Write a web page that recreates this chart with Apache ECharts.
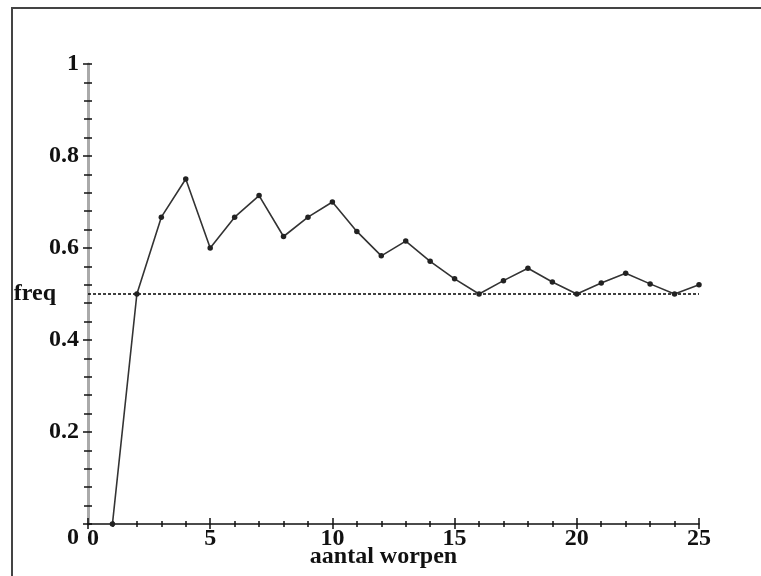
<!DOCTYPE html>
<html>
<head>
<meta charset="utf-8">
<script src="https://cdn.jsdelivr.net/npm/echarts@6/dist/echarts.min.js"></script>
<style>
  html, body { margin: 0; padding: 0; background: #fff; }
  #wrap { position: relative; width: 761px; height: 576px; }
  #frame { position: absolute; left: 11px; top: 7px; right: 0; bottom: 0;
           border-left: 2px solid #444; border-top: 2px solid #444; }
  #chart { position: absolute; left: 0; top: 0; width: 761px; height: 576px; }
</style>
</head>
<body>
<div id="wrap">
  <div id="frame"></div>
  <div id="chart"></div>
</div>
<script>
// number of throws (aantal worpen)
const throws = [1,2,3,4,5,6,7,8,9,10,11,12,13,14,15,16,17,18,19,20,21,22,23,24,25];
// relative frequency (freq)
const freq = [0, 0.5, 0.667, 0.75, 0.6, 0.667, 0.714, 0.625, 0.667, 0.7, 0.636, 0.583,
              0.615, 0.571, 0.533, 0.5, 0.529, 0.556, 0.526, 0.5, 0.524, 0.545, 0.522, 0.5, 0.52];
// reference line
const refX = [0, 25];
const refY = [0.5, 0.5];
const xTicks = [0, 5, 10, 15, 20, 25];
const yTicks = [0, 0.2, 0.4, 0.6, 0.8, 1];

const FONT = 'Liberation Serif';
const labelStyle = { fontFamily: FONT, fontWeight: 'bold', fontSize: 24, color: '#111' };

const chart = echarts.init(document.getElementById('chart'), null, { renderer: 'canvas' });

const xBase = {
  type: 'value', min: xTicks[0], max: xTicks[xTicks.length - 1], interval: 5,
  position: 'bottom', splitLine: { show: false }
};
const yBase = {
  type: 'value', min: yTicks[0], max: yTicks[yTicks.length - 1], interval: 0.2,
  position: 'left', splitLine: { show: false }
};

chart.setOption({
  animation: false,
  backgroundColor: 'transparent',
  grid: { left: 88, right: 62, top: 64, bottom: 52, containLabel: false, outerBoundsMode: 'none' },
  xAxis: [
    Object.assign({}, xBase, {
      name: 'aantal worpen', nameLocation: 'middle', nameGap: 21, nameMoveOverlap: false,
      nameTextStyle: Object.assign({}, labelStyle, { padding: [0, 20, 0, 0] }),
      axisLine: { show: true, onZero: false, lineStyle: { color: '#111', width: 1.5 } },
      axisTick: { show: true, inside: false, length: 5, lineStyle: { color: '#111', width: 1.5 } },
      minorTick: { show: true, splitNumber: 5, length: 3, lineStyle: { color: '#111', width: 1.5 } },
      axisLabel: Object.assign({}, labelStyle, {
        margin: 3,
        formatter: v => v === 0 ? '{z|0}' : String(v),
        rich: { z: Object.assign({}, labelStyle, { padding: [0, 0, 0, 10] }) }
      })
    }),
    Object.assign({}, xBase, {
      axisLine: { show: false, onZero: false },
      axisTick: { show: true, inside: true, length: 6, lineStyle: { color: '#111', width: 1.5 } },
      minorTick: { show: true, splitNumber: 5, length: 3, lineStyle: { color: '#111', width: 1.5 } },
      axisLabel: { show: false }
    })
  ],
  yAxis: [
    Object.assign({}, yBase, {
      name: 'freq', nameLocation: 'middle', nameGap: 32, nameRotate: 0, nameMoveOverlap: false,
      nameTextStyle: labelStyle,
      axisLine: { show: true, onZero: false, lineStyle: { color: '#aaa', width: 3 } },
      axisTick: { show: true, inside: false, length: 5, lineStyle: { color: '#111', width: 1.5 } },
      minorTick: { show: true, splitNumber: 5, length: 4, lineStyle: { color: '#111', width: 1.5 } },
      axisLabel: Object.assign({}, labelStyle, {
        margin: 9,
        formatter: v => v === 0 ? '{z|0}' : String(v),
        rich: { z: Object.assign({}, labelStyle, { padding: [28, 0, 0, 0] }) }
      })
    }),
    Object.assign({}, yBase, {
      axisLine: { show: false, onZero: false },
      axisTick: { show: true, inside: true, length: 4, lineStyle: { color: '#111', width: 1.5 } },
      minorTick: { show: true, splitNumber: 5, length: 4, lineStyle: { color: '#111', width: 1.5 } },
      axisLabel: { show: false }
    })
  ],
  series: [
    {
      type: 'line', xAxisIndex: 0, yAxisIndex: 0,
      data: refX.map((x, i) => [x, refY[i]]),
      symbol: 'none',
      lineStyle: { color: '#000', width: 1.5, type: [3, 2] },
      z: 1, silent: true
    },
    {
      type: 'line', xAxisIndex: 0, yAxisIndex: 0,
      data: throws.map((x, i) => [x, freq[i]]),
      symbol: 'circle', symbolSize: 5.5, showSymbol: true,
      itemStyle: { color: '#222' },
      lineStyle: { color: '#333', width: 1.6 },
      z: 3
    }
  ]
});
</script>
</body>
</html>
